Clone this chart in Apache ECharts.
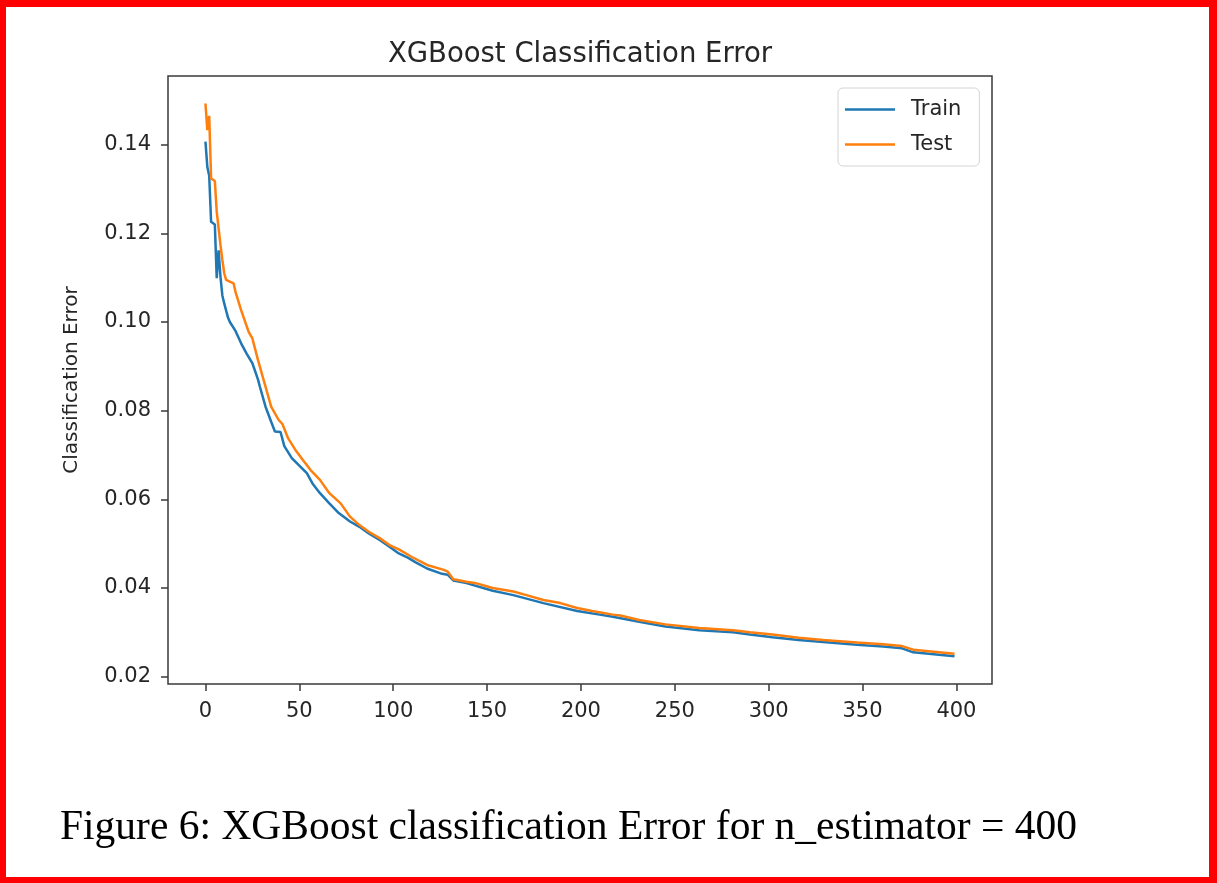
<!DOCTYPE html>
<html>
<head>
<meta charset="utf-8">
<script src="https://cdn.jsdelivr.net/npm/echarts@6/dist/echarts.min.js"></script>
<style>
  html, body { margin: 0; padding: 0; background: #fff; }
  #wrap { position: relative; width: 1217px; height: 883px; }
  #chart { position: absolute; left: 0; top: 0; width: 1217px; height: 883px; }
  #frame { position: absolute; left: 0; top: 0; width: 1217px; height: 883px; box-sizing: border-box;
           border-style: solid; border-color: #ff0000; border-width: 7px 8px 6px 6px; pointer-events: none; }
</style>
</head>
<body>
<div id="wrap">
  <div id="chart"></div>
  <div id="frame"></div>
</div>
<script>
// Boosting rounds and classification error for the training set
const trainIter = [0, 1, 2, 3, 4, 5, 6, 7, 8, 9, 10, 12, 13, 16, 19, 22, 25, 28, 29, 32, 35, 37, 40, 42, 46, 50,
  54, 57, 61, 66, 71, 77, 82, 87, 93, 98, 103, 108, 112, 118, 126, 129, 132, 139, 153, 164, 180, 198, 210, 217,
  231, 245, 263, 281, 290, 302, 316, 329, 347, 361, 371, 377, 399];
const trainErr = [0.1407, 0.1350, 0.1330, 0.1226, 0.1223, 0.1220, 0.1099, 0.1162, 0.1102, 0.1060, 0.1042, 0.1010,
  0.1000, 0.0980, 0.0952, 0.0928, 0.0907, 0.0870, 0.0854, 0.0809, 0.0775, 0.0753, 0.0752, 0.0720, 0.0693, 0.0676,
  0.0659, 0.0636, 0.0614, 0.0591, 0.0569, 0.0550, 0.0538, 0.0523, 0.0508, 0.0493, 0.0478, 0.0468, 0.0458, 0.0444,
  0.0432, 0.0430, 0.0417, 0.0411, 0.0394, 0.0384, 0.0366, 0.0348, 0.0340, 0.0335, 0.0324, 0.0313, 0.0305, 0.0300,
  0.0295, 0.0289, 0.0283, 0.0278, 0.0272, 0.0268, 0.0264, 0.0255, 0.0246];

// Boosting rounds and classification error for the test set
const testIter = [0, 1, 2, 3, 4, 5, 6, 7, 8, 9, 10, 11, 12, 15, 16, 19, 23, 25, 28, 32, 35, 39, 41, 44, 48, 52,
  56, 61, 66, 72, 77, 82, 87, 93, 98, 103, 110, 118, 127, 129, 132, 139, 144, 153, 164, 171, 180, 189, 198, 206,
  217, 221, 231, 245, 263, 281, 290, 302, 316, 329, 347, 361, 371, 377, 399];
const testErr = [0.1493, 0.1433, 0.1465, 0.1324, 0.1320, 0.1318, 0.1249, 0.1250, 0.1174, 0.1140, 0.1110, 0.1095,
  0.1091, 0.1087, 0.1068, 0.1027, 0.0978, 0.0963, 0.0914, 0.0854, 0.0809, 0.0779, 0.0770, 0.0738, 0.0711, 0.0688,
  0.0666, 0.0644, 0.0614, 0.0591, 0.0561, 0.0542, 0.0527, 0.0512, 0.0497, 0.0487, 0.0470, 0.0452, 0.0441, 0.0437,
  0.0420, 0.0414, 0.0411, 0.0400, 0.0392, 0.0384, 0.0373, 0.0366, 0.0355, 0.0348, 0.0340, 0.0338, 0.0328, 0.0318,
  0.0310, 0.0305, 0.0300, 0.0295, 0.0288, 0.0283, 0.0277, 0.0273, 0.0269, 0.0261, 0.0252];

const xTicks = [0, 50, 100, 150, 200, 250, 300, 350, 400];
const yTicks = [0.02, 0.04, 0.06, 0.08, 0.10, 0.12, 0.14];

const seriesNames = ['Train', 'Test'];
const seriesColors = ['#1f77b4', '#ff7f0e'];

const titleText = 'XGBoost Classification Error';
const yName = 'Classification Error';
const captionText = 'Figure 6: XGBoost classification Error for n_estimator = 400';

const pair = (xs, ys) => xs.map((x, i) => [x, ys[i]]);

const font = 'DejaVu Sans';
const ink = '#262626';
const spine = '#3a3a3a';

const chart = echarts.init(document.getElementById('chart'), null, { renderer: 'canvas' });

chart.setOption({
  animation: false,
  backgroundColor: '#ffffff',
  title: {
    text: titleText,
    left: 575,
    top: 36,
    textAlign: 'center',
    textStyle: { fontFamily: font, fontSize: 27.5, fontWeight: 'normal', color: ink }
  },
  legend: {
    data: seriesNames,
    orient: 'vertical',
    left: 838,
    top: 88,
    padding: [10, 18, 10, 7],
    icon: 'rect',
    itemWidth: 50,
    itemHeight: 2.5,
    itemGap: 12,
    backgroundColor: '#ffffff',
    borderColor: '#d4d4d4',
    borderWidth: 1,
    borderRadius: 5,
    textStyle: { fontFamily: font, fontSize: 21, color: ink, lineHeight: 23, padding: [0, 0, 0, 11] }
  },
  grid: {
    left: 168,
    top: 76,
    width: 824,
    height: 608,
    show: true,
    borderColor: spine,
    borderWidth: 1.5,
    backgroundColor: 'transparent',
    containLabel: false
  },
  xAxis: {
    type: 'value',
    min: -19.95,
    max: 418.95,
    axisLine: { show: false, onZero: false },
    splitLine: { show: false },
    axisTick: { show: true, customValues: xTicks, length: 7, inside: false, lineStyle: { color: spine, width: 1.5 } },
    axisLabel: {
      customValues: xTicks,
      margin: 17,
      fontFamily: font,
      fontSize: 21,
      color: ink,
      formatter: v => String(v)
    }
  },
  yAxis: {
    type: 'value',
    min: 0.01835,
    max: 0.1555,
    name: yName,
    nameLocation: 'middle',
    nameRotate: 90,
    nameGap: 86,
    nameTextStyle: { fontFamily: font, fontSize: 20, color: ink },
    axisLine: { show: false, onZero: false },
    splitLine: { show: false },
    axisTick: { show: true, customValues: yTicks, length: 7, inside: false, lineStyle: { color: spine, width: 1.5 } },
    axisLabel: {
      customValues: yTicks,
      margin: 17,
      fontFamily: font,
      fontSize: 21,
      color: ink,
      formatter: v => v.toFixed(2)
    }
  },
  series: [
    {
      name: seriesNames[0],
      type: 'line',
      data: pair(trainIter, trainErr),
      symbol: 'none',
      color: seriesColors[0],
      lineStyle: { width: 2.5, color: seriesColors[0] },
      z: 2
    },
    {
      name: seriesNames[1],
      type: 'line',
      data: pair(testIter, testErr),
      symbol: 'none',
      color: seriesColors[1],
      lineStyle: { width: 2.5, color: seriesColors[1] },
      z: 3
    }
  ],
  graphic: [
    {
      type: 'text',
      left: 60,
      top: 807,
      style: {
        text: captionText,
        fontFamily: 'Liberation Serif',
        fontSize: 41.5,
        fill: '#000000'
      }
    }
  ]
});
</script>
</body>
</html>
